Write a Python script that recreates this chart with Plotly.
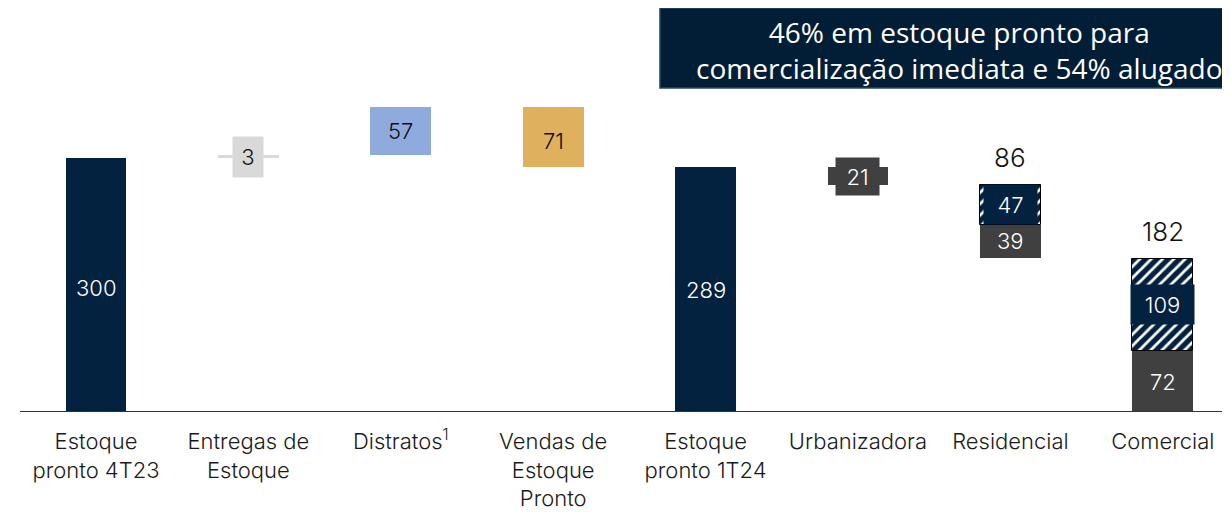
import plotly.graph_objects as go

# ---- data ----
categories = ["Estoque<br>pronto 4T23", "Entregas de<br>Estoque", "Distratos<sup>1</sup>",
              "Vendas de<br>Estoque<br>Pronto", "Estoque<br>pronto 1T24", "Urbanizadora",
              "Residencial", "Comercial"]
estoque_4t23 = 300
entregas = 3
distratos = 57
vendas = -71
estoque_1t24 = 289
urbanizadora = 21
residencial_pronto = 39
residencial_alugado = 47
residencial_total = 86
comercial_pronto = 72
comercial_alugado = 109
comercial_total = 182

NAVY = "#03223F"
DGRAY = "#404040"
LGRAY = "#D9D9D9"
BLUE = "#8FAADC"
GOLD = "#DFB05E"
FONT = "Inter"

xs = list(range(len(categories)))
W = 0.40

fig = go.Figure()

def bar(x, base, val, color, pattern=None, line=None):
    m = dict(color=color)
    if pattern:
        m["pattern"] = pattern
    m["line"] = line if line else dict(width=0)
    fig.add_trace(go.Bar(x=[x], y=[val], base=[base], width=W, marker=m,
                         showlegend=False, hoverinfo="skip"))

hatch = dict(shape="/", fgcolor="white", bgcolor=NAVY, size=8, solidity=0.35, fillmode="replace")
outline = dict(color="black", width=1)

bar(0, 0, estoque_4t23, NAVY)
lvl = estoque_4t23
bar(1, lvl, entregas, LGRAY)
lvl += entregas
bar(2, lvl, distratos, BLUE)
lvl += distratos
bar(3, lvl + vendas, -vendas, GOLD)
bar(4, 0, estoque_1t24, NAVY)
lvl = estoque_1t24
bar(5, lvl - urbanizadora, urbanizadora, DGRAY)
lvl -= urbanizadora
bar(6, lvl - residencial_total, residencial_pronto, DGRAY)
bar(6, lvl - residencial_total + residencial_pronto, residencial_alugado, NAVY, hatch, outline)
bar(7, 0, comercial_pronto, DGRAY)
bar(7, comercial_pronto, comercial_alugado, NAVY, hatch, outline)

VSIZE = 22
ann = []
def lab(x, y, text, color="white", bg=None, w=None, h=None, size=VSIZE):
    d = dict(x=x, y=y, xref="x", yref="y", text=text, showarrow=False,
             xanchor="center", yanchor="middle",
             font=dict(family=FONT, size=size, color=color, weight=300), borderpad=0)
    if bg:
        d["bgcolor"] = bg
    if w:
        d["width"] = w
    if h:
        d["height"] = h
    ann.append(d)

lab(0, estoque_4t23 * 0.487, str(estoque_4t23))
lab(1, estoque_4t23 + entregas / 2, str(entregas), "#111111", LGRAY, 30, 40)
lab(2, estoque_4t23 + entregas + distratos / 2, str(distratos), "#111111")
lab(3, estoque_1t24 - vendas / 2 - 5, str(-vendas), "#111111")
lab(4, estoque_1t24 * 0.5, str(estoque_1t24))
lab(5, estoque_1t24 - urbanizadora / 2, str(urbanizadora), "white", DGRAY, 43, 37)
r_base = estoque_1t24 - urbanizadora - residencial_total
lab(6, r_base + residencial_pronto + residencial_alugado / 2, str(residencial_alugado), "white", NAVY, 53, 39)
lab(6, r_base + residencial_pronto / 2, str(residencial_pronto))
lab(6, r_base + residencial_total + 32, str(residencial_total), "#111111", size=26)
lab(7, comercial_pronto + comercial_alugado / 2, str(comercial_alugado), "white", NAVY, 63, 39)
lab(7, comercial_pronto / 2, str(comercial_pronto))
lab(7, comercial_total + 31, str(comercial_total), "#111111", size=26)

ann.append(dict(x=0.7764, y=0.9005, xref="paper", yref="paper", showarrow=False,
                xanchor="center", yanchor="middle",
                text="46% em estoque pronto para<br>comercialização imediata e 54% alugado",
                font=dict(family="Open Sans", size=28, color="white"), align="center"))

fig.update_layout(
    width=1230, height=512,
    margin=dict(l=12, r=8, t=2, b=108),
    paper_bgcolor="white", plot_bgcolor="rgba(0,0,0,0)",
    barmode="overlay", bargap=0,
    annotations=ann,
    shapes=[dict(type="rect", xref="paper", yref="paper", x0=0.5289, x1=1.0, y0=0.806, y1=1.005,
                 fillcolor="#021E36", line=dict(color="#2B4866", width=1.5), layer="below"),
            dict(type="line", xref="paper", yref="y", x0=0, x1=1, y0=0, y1=0,
                 line=dict(color="#333333", width=2), layer="above")],
    xaxis=dict(range=[-0.4987, 7.441], tickvals=xs, ticktext=categories, showgrid=False,
               zeroline=False, showline=False, ticks="", ticklabelstandoff=14,
               tickfont=dict(family=FONT, size=22, color="#1A1A1A", weight=300)),
    yaxis=dict(range=[0, 474.6], visible=False, showgrid=False, zeroline=False),
)

fig.write_html("out.html")
